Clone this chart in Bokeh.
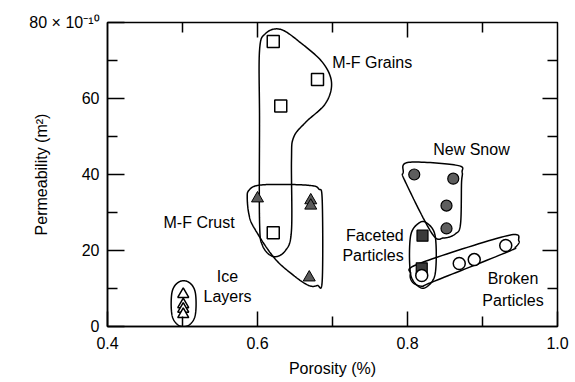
import numpy as np
from bokeh.plotting import figure
from bokeh.models import FixedTicker, Range1d
from bokeh.models import Label
from bokeh.embed import file_html
from bokeh.resources import INLINE

# ---------------- data (porosity, permeability x1e-10 m^2) ----------------
mf_grains_x = [0.621, 0.680, 0.631, 0.621]
mf_grains_y = [75.0, 65.0, 58.0, 24.7]
mf_crust_x = [0.600, 0.671, 0.671, 0.669]
mf_crust_y = [33.7, 33.2, 31.8, 12.9]
ice_x = [0.501, 0.501, 0.501, 0.501]
ice_y = [8.5, 5.8, 4.6, 3.2]
new_snow_x = [0.809, 0.861, 0.852, 0.852]
new_snow_y = [40.0, 38.9, 31.8, 25.8]
faceted_x = [0.820, 0.819]
faceted_y = [23.9, 15.3]
broken_x = [0.819, 0.869, 0.889, 0.931]
broken_y = [13.4, 16.6, 17.6, 21.3]

# group enclosure control points (data units)
grains_hull_x = [0.6027, 0.6107, 0.6307, 0.6573, 0.6867, 0.6987, 0.6907, 0.664, 0.648, 0.6453, 0.6453, 0.6373, 0.6213, 0.6067, 0.6027, 0.6027]
grains_hull_y = [72.6, 77.1, 78.2, 74.7, 69.5, 64.2, 58.7, 53.7, 49.7, 43.7, 25.3, 20.0, 18.4, 21.3, 27.9, 54.2]
crust_hull_x = [0.5884, 0.5863, 0.5884, 0.5951, 0.6217, 0.6484, 0.6684, 0.6796, 0.6863, 0.6863, 0.6817, 0.6707, 0.6307, 0.5996]
crust_hull_y = [35.8, 34.0, 29.7, 26.1, 18.2, 13.4, 10.8, 10.8, 12.1, 33.2, 36.2, 37.1, 37.4, 37.1]
snow_hull_x = [0.8017, 0.8663, 0.8729, 0.872, 0.8707, 0.864, 0.8484, 0.8329, 0.7973, 0.7943]
snow_hull_y = [43.2, 42.4, 40.6, 37.6, 27.0, 24.4, 23.3, 24.4, 38.0, 40.6]
faceted_hull_x = [0.804, 0.804, 0.815, 0.826, 0.837, 0.837, 0.826, 0.815]
faceted_hull_y = [14.0, 23.7, 27.2, 27.2, 23.7, 14.0, 10.5, 10.5]
broken_hull_x = [0.804, 0.815, 0.9329, 0.9484, 0.944, 0.9329, 0.8329, 0.8196, 0.807]
broken_hull_y = [13.9, 16.5, 23.9, 22.6, 20.9, 19.6, 11.7, 10.6, 11.6]
ice_hull_x = [0.486, 0.486, 0.495, 0.508, 0.517, 0.517, 0.508, 0.495]
ice_hull_y = [3.0, 9.0, 11.7, 11.7, 9.0, 3.0, 0.3, 0.3]

x_major = [0.4, 0.6, 0.8, 1.0]
x_minor = [0.5, 0.7, 0.9]
x_tick_labels = ["0.4", "0.6", "0.8", "1.0"]
y_major = [0, 20, 40, 60, 80]
y_minor = [10, 30, 50, 70]
y_tick_labels = ["0", "20", "40", "60", "80 × 10⁻¹⁰"]

FONT = "Liberation Sans"
X0, X1, Y0, Y1 = 0.4, 1.0, 0.0, 80.0
FRAME_W, FRAME_H = 450, 304


def smooth_closed(xs, ys, n=20):
    P = np.column_stack([xs, ys]).astype(float)
    m = len(P)
    out = []
    t = np.linspace(0, 1, n, endpoint=False)
    for i in range(m):
        p0, p1, p2, p3 = P[(i - 1) % m], P[i], P[(i + 1) % m], P[(i + 2) % m]
        for tt in t:
            t2, t3 = tt * tt, tt * tt * tt
            pt = 0.5 * ((2 * p1) + (-p0 + p2) * tt + (2 * p0 - 5 * p1 + 4 * p2 - p3) * t2
                        + (-p0 + 3 * p1 - 3 * p2 + p3) * t3)
            out.append(pt)
    out.append(out[0])
    out = np.array(out)
    return out[:, 0], out[:, 1]


p = figure(width=575, height=382, x_range=Range1d(X0, X1), y_range=Range1d(Y0, Y1),
           output_backend="svg", toolbar_location=None,
           min_border_left=107, min_border_right=18, min_border_top=22, min_border_bottom=56)
p.grid.visible = False
p.outline_line_color = "black"
p.outline_line_width = 1.5
p.background_fill_color = "white"
p.border_fill_color = "white"


def style_axis(ax, major, minor, tick_in, minor_in):
    ax.ticker = FixedTicker(ticks=major, minor_ticks=minor)
    ax.major_tick_in = tick_in
    ax.major_tick_out = 0
    ax.minor_tick_in = minor_in
    ax.minor_tick_out = 0
    ax.axis_line_color = "black"
    ax.axis_line_width = 1.5
    ax.major_tick_line_width = 1.5
    ax.minor_tick_line_width = 1.5
    ax.major_tick_line_color = "black"
    ax.minor_tick_line_color = "black"
    ax.major_label_text_font = FONT
    ax.major_label_text_font_size = "16px"
    ax.major_label_text_color = "black"
    ax.axis_label_text_font = FONT
    ax.axis_label_text_font_size = "16px"
    ax.axis_label_text_font_style = "normal"
    ax.axis_label_text_color = "black"


xa = p.xaxis[0]
style_axis(xa, x_major, x_minor, 15, 10)
xa.major_label_overrides = {t: s for t, s in zip(x_major, x_tick_labels)}
xa.major_label_standoff = 10
xa.axis_label = "Porosity (%)"
xa.axis_label_standoff = 8

ya = p.yaxis[0]
style_axis(ya, y_major, y_minor, 17, 10)
ya.major_label_overrides = {t: s for t, s in zip(y_major, y_tick_labels)}
ya.major_label_standoff = 8
ya.axis_label = "Permeability (m²)"
ya.axis_label_standoff = -24

# inward ticks on the top and right frame edges
dx = (X1 - X0) / FRAME_W   # data units per pixel
dy = (Y1 - Y0) / FRAME_H
top_t = [t for t in x_major if X0 < t < X1]
top_m = x_minor
p.segment(top_t, [Y1] * len(top_t), top_t, [Y1 - 15 * dy] * len(top_t),
          line_color="black", line_width=1.5)
p.segment(top_m, [Y1] * len(top_m), top_m, [Y1 - 10 * dy] * len(top_m),
          line_color="black", line_width=1.5)
right_t = [t for t in y_major if Y0 < t < Y1]
right_m = y_minor
p.segment([X1] * len(right_t), right_t, [X1 - 15 * dx] * len(right_t), right_t,
          line_color="black", line_width=1.5)
p.segment([X1] * len(right_m), right_m, [X1 - 10 * dx] * len(right_m), right_m,
          line_color="black", line_width=1.5)

# enclosures
for hx, hy in [(grains_hull_x, grains_hull_y), (crust_hull_x, crust_hull_y),
               (snow_hull_x, snow_hull_y), (faceted_hull_x, faceted_hull_y),
               (broken_hull_x, broken_hull_y), (ice_hull_x, ice_hull_y)]:
    sx, sy = smooth_closed(hx, hy)
    p.line(sx, sy, line_color="black", line_width=1.5)

# markers
p.scatter(faceted_x, faceted_y, marker="square", size=11, fill_color="#3a3a3a",
          line_color="black", line_width=1.2)
p.scatter(new_snow_x, new_snow_y, marker="circle", size=11, fill_color="#5e5e5e",
          line_color="black", line_width=1.2)
p.scatter(mf_crust_x, mf_crust_y, marker="triangle", size=12, fill_color="#5a5a5a",
          line_color="black", line_width=1.0)
p.scatter(mf_grains_x, mf_grains_y, marker="square", size=12, fill_color="white",
          line_color="black", line_width=1.5)
p.scatter(ice_x, ice_y, marker="triangle", size=11, fill_color="white",
          line_color="black", line_width=1.5)
p.scatter(broken_x, broken_y, marker="circle", size=12, fill_color="white",
          line_color="black", line_width=1.5)


def add_label(x, y, text, align="left"):
    p.add_layout(Label(x=x, y=y, text=text, text_align=align, text_baseline="middle",
                       text_font=FONT, text_font_size="16px", text_color="black"))


add_label(0.6996, 69.6, "M-F Grains")
add_label(0.4747, 27.3, "M-F Crust")
add_label(0.560, 13.2, "Ice", "center")
add_label(0.560, 7.9, "Layers", "center")
add_label(0.8853, 46.5, "New Snow", "center")
add_label(0.795, 23.9, "Faceted", "right")
add_label(0.795, 18.7, "Particles", "right")
add_label(0.9407, 12.6, "Broken", "center")
add_label(0.9407, 6.8, "Particles", "center")

open("out.html", "w").write(file_html(p, INLINE))
